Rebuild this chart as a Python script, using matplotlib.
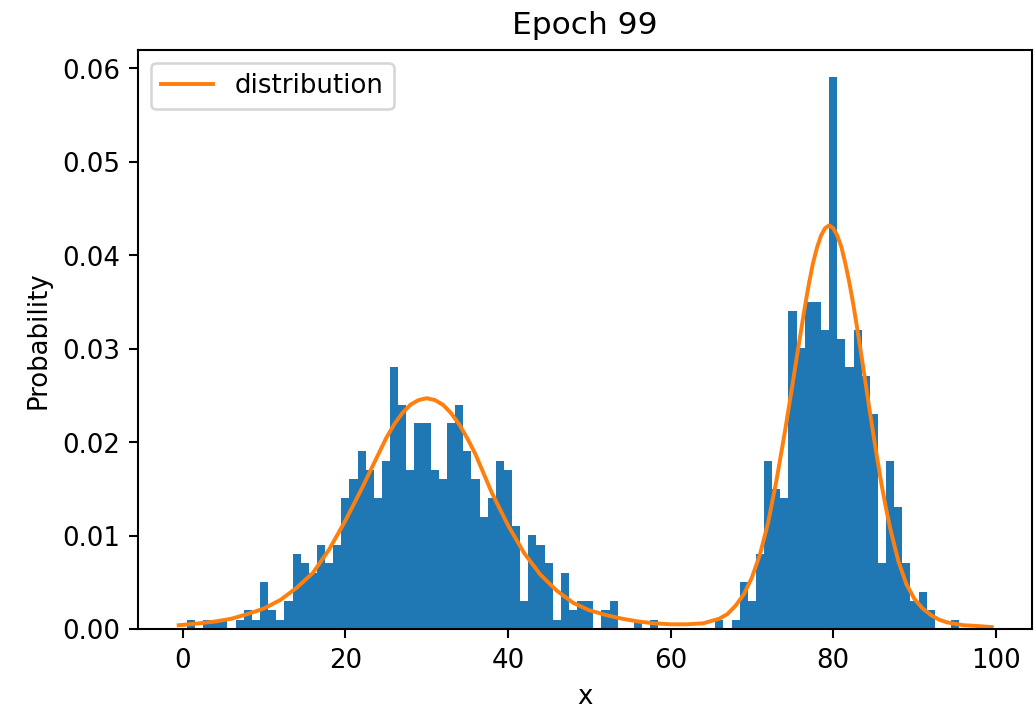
import numpy as np
import matplotlib
matplotlib.use("Agg")
import matplotlib.pyplot as plt

# histogram: integer sample values 1..95, one bin per value
bin_values = np.arange(1, 96)
counts = [1, 0, 1, 1, 1, 0, 1, 2, 1, 5,
          2, 1, 3, 8, 7, 6, 9, 7, 9, 14,
          16, 19, 17, 14, 18, 28, 24, 17, 22, 22,
          17, 16, 22, 24, 19, 16, 12, 14, 18, 17,
          11, 3, 10, 9, 7, 1, 6, 2, 3, 3,
          0, 2, 3, 0, 0, 1, 0, 1, 0, 0,
          0, 0, 0, 0, 0, 1, 0, 1, 5, 3,
          8, 18, 15, 14, 34, 30, 35, 35, 32, 59,
          31, 28, 32, 27, 23, 7, 18, 13, 7, 3,
          4, 2, 0, 0, 1]

# orange "distribution" curve
curve_x = [-0.5, 2, 4, 6, 8, 10, 12, 14, 16, 18, 20, 22, 24, 25, 26, 27,
           28, 29, 30, 31, 32, 33, 34, 35, 36, 38, 40, 42, 44, 46, 48, 50,
           52, 54, 56, 58, 60, 62, 64, 66, 67, 68, 69, 70, 71, 72, 73, 74,
           74.5, 75, 75.5, 76, 76.5, 77, 77.5, 78, 78.5, 79, 79.5, 80, 80.5,
           81, 81.5, 82, 82.5, 83, 83.5, 84, 84.5, 85, 85.5, 86, 86.5, 87,
           88, 89, 90, 91, 92, 93, 94, 96, 98, 99.5]
curve_y = [0.0004, 0.0006, 0.0008, 0.0011, 0.0016, 0.0022, 0.0031, 0.0044,
           0.0060, 0.0085, 0.0116, 0.0150, 0.0186, 0.0204, 0.0219, 0.0231,
           0.0240, 0.0245, 0.0247, 0.0245, 0.0240, 0.0231, 0.0219, 0.0204,
           0.0187, 0.0146, 0.0111, 0.0081, 0.0058, 0.0041, 0.0028, 0.0020,
           0.0015, 0.0011, 0.0008, 0.0006, 0.0005, 0.0005, 0.0006, 0.0011,
           0.0016, 0.0025, 0.0037, 0.0055, 0.0080, 0.0114, 0.0158, 0.0208,
           0.0235, 0.0262, 0.0290, 0.0317, 0.0344, 0.0369, 0.0391, 0.0408,
           0.0421, 0.0429, 0.0432, 0.0429, 0.0421, 0.0409, 0.0391, 0.0370,
           0.0346, 0.0319, 0.0291, 0.0262, 0.0233, 0.0205, 0.0178, 0.0152,
           0.0129, 0.0108, 0.0073, 0.0048, 0.0032, 0.0022, 0.0015, 0.0010,
           0.0007, 0.0004, 0.0003, 0.0002]

# 1 pt -> 2.6 px so the default rc sizes scale like the reference
dpi = 187.2
fig = plt.figure(figsize=(1036.4 / dpi, 714.4 / dpi), dpi=dpi)
ax = fig.add_axes([138 / 1036, 1 - 629 / 714, 894 / 1036, 579 / 714])

edges = np.append(bin_values - 0.5, bin_values[-1] + 0.5)
ax.hist(bin_values, bins=edges, weights=counts, density=True, color='C0')
ax.plot(curve_x, curve_y, color='C1', label='distribution')

ax.set_xticks([0, 20, 40, 60, 80, 100])
ax.set_title('Epoch 99')
ax.set_xlabel('x')
ax.set_ylabel('Probability')
ax.legend(loc='upper left')

fig.savefig('out.png', dpi=dpi)
